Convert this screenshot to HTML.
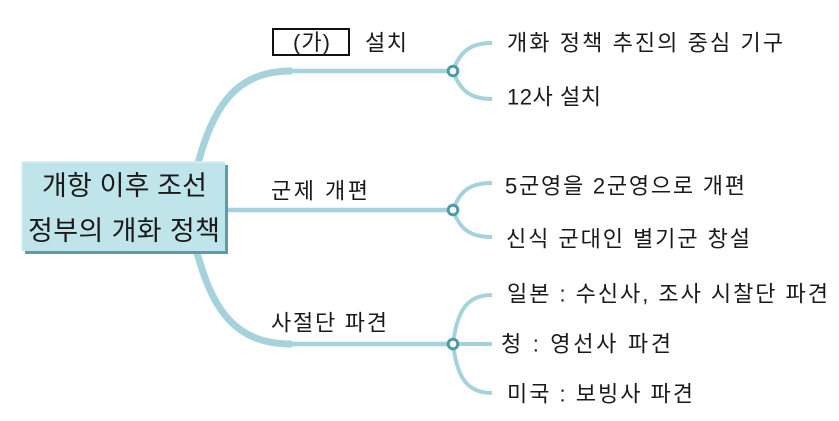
<!DOCTYPE html>
<html>
<head>
<meta charset="utf-8">
<style>
  html, body { margin: 0; padding: 0; background: #ffffff; }
  svg { display: block; }
  text { font-family: "Liberation Sans", "Noto Sans CJK KR", sans-serif; fill: #1a1a1a; }
</style>
</head>
<body>
<svg width="839" height="421" viewBox="0 0 839 421" xmlns="http://www.w3.org/2000/svg">
  <!-- main branches -->
  <g fill="none" stroke="#a6d2dc" stroke-linecap="butt">
    <path d="M 195 175 C 212 105, 236 71, 292 71" stroke-width="7"/>
    <path d="M 290 71 L 453 71" stroke-width="4.5"/>
    <path d="M 220 210 L 453 210" stroke-width="4.5"/>
    <path d="M 195 245 C 212 312, 236 344, 292 344" stroke-width="7"/>
    <path d="M 290 344 L 453 344" stroke-width="4.5"/>
  </g>
  <!-- sub branches -->
  <g fill="none" stroke="#a6d2dc" stroke-width="4">
    <path d="M 453 71 C 460 51, 471 43, 492 43"/>
    <path d="M 453 71 C 460 91, 471 99, 492 99"/>
    <path d="M 453 210 C 460 190, 471 183, 492 183"/>
    <path d="M 453 210 C 460 230, 471 237, 492 237"/>
    <path d="M 453 344 C 457 312, 466 295, 492 295"/>
    <path d="M 453 344 L 492 344"/>
    <path d="M 453 344 C 457 376, 466 393, 492 393"/>
  </g>
  <!-- junction circles -->
  <g fill="#ffffff" stroke="#4e9aa8" stroke-width="3">
    <circle cx="453" cy="71" r="4.8"/>
    <circle cx="453" cy="210" r="4.8"/>
    <circle cx="453" cy="344" r="4.8"/>
  </g>

  <!-- root box -->
  <rect x="25" y="165" width="203" height="89" fill="#5a9eaa"/>
  <rect x="22" y="162" width="203" height="89" fill="#bfe4ea"/>
  <path d="M 22 251 L 22 162 L 225 162" fill="none" stroke="#d6eff3" stroke-width="1.5"/>
  <text x="42" y="195" font-size="27" textLength="165" lengthAdjust="spacing">개항 이후 조선</text>
  <text x="28" y="240" font-size="27" textLength="192" lengthAdjust="spacing">정부의 개화 정책</text>

  <!-- branch labels -->
  <rect x="273" y="29" width="76" height="26" fill="#ffffff" stroke="#111111" stroke-width="2"/>
  <text x="293" y="50" font-size="22" textLength="37" lengthAdjust="spacing">(가)</text>
  <text x="365" y="50.5" font-size="22" textLength="42" lengthAdjust="spacing">설치</text>
  <text x="271" y="198.5" font-size="22" textLength="97" lengthAdjust="spacing">군제 개편</text>
  <text x="271" y="330.5" font-size="22" textLength="116" lengthAdjust="spacing">사절단 파견</text>

  <!-- leaf labels -->
  <text x="507" y="50.5" font-size="22" textLength="276" lengthAdjust="spacing">개화 정책 추진의 중심 기구</text>
  <text x="507" y="104.5" font-size="22" textLength="94" lengthAdjust="spacing">12사 설치</text>
  <text x="505" y="193.5" font-size="22" textLength="240" lengthAdjust="spacing">5군영을 2군영으로 개편</text>
  <text x="506" y="246.5" font-size="22" textLength="244" lengthAdjust="spacing">신식 군대인 별기군 창설</text>
  <text x="507" y="301.5" font-size="22" textLength="321" lengthAdjust="spacing">일본 : 수신사, 조사 시찰단 파견</text>
  <text x="501" y="351.5" font-size="22" textLength="170" lengthAdjust="spacing">청 : 영선사 파견</text>
  <text x="507" y="401.5" font-size="22" textLength="186" lengthAdjust="spacing">미국 : 보빙사 파견</text>
</svg>
</body>
</html>
